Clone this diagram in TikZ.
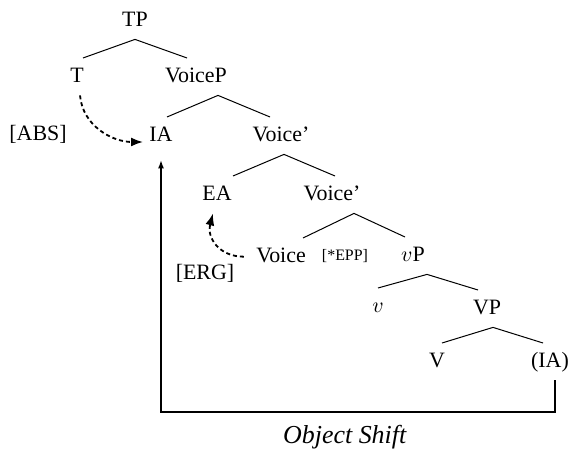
\documentclass[tikz,border=0pt]{standalone}
\usepackage{fontspec}
\setmainfont{Liberation Serif}
\usetikzlibrary{arrows.meta}

\begin{document}
\begin{tikzpicture}[x=.5bp,y=-.5bp,
    cat/.style={anchor=base,font=\fontsize{11}{13}\selectfont,
      text height=7.3bp,text depth=1bp,inner xsep=3bp,inner ysep=5bp},
    feat/.style={anchor=base,inner sep=1bp},
    branch/.style={line width=.5bp},
    agree/.style={line width=.9bp,dash pattern=on 2bp off 1.5bp,
      -{Latex[length=6bp,width=4.5bp]}},
    movement/.style={line width=.6bp,-{Latex[length=4bp,width=3bp]}}]

      \useasboundingbox (0,0) rectangle (572,450);

      \begin{scope}[every node/.style={cat}]
        \node (TP)        at (135,27)  {TP};
        \node (T)         at (77,83)   {T};
        \node (VoiceP)    at (196,83)  {VoiceP};
        \node (IA)        at (161,142) {IA};
        \node (Voicebar)  at (281,142) {Voice'};
        \node (EA)        at (217,201) {EA};
        \node (Voicebarb) at (332,201) {Voice'};
        \node (Voice)     at (281,263) {Voice};
        \node (vP)        at (413,262) {$v$P};
        \node (v)         at (378,313) {$v$};
        \node (VP)        at (487,315) {VP};
        \node (V)         at (437,368) {V};
        \node (IAlow)     at (550,368) {(IA)};
      \end{scope}

      \begin{scope}[every node/.style={feat}]
        \node (ABS) at (38,141)  {\fontsize{11}{13}\selectfont[ABS]};
        \node (ERG) at (205,280) {\fontsize{11}{13}\selectfont[ERG]};
        \node (EPP) at (345,261) {\fontsize{8}{10}\selectfont[*EPP]};
        \node (shift) at (345,443) {\fontsize{13}{15}\selectfont\textit{Object Shift}};
      \end{scope}

      \coordinate (corner) at (161,412);

      \begin{scope}[every path/.style={branch}]
        \draw (TP.south) -- ([xshift=3bp]T.north);
        \draw (TP.south) -- ([xshift=-4.5bp]VoiceP.north);
        \draw ([xshift=11bp]VoiceP.south) -- ([xshift=3bp]IA.north);
        \draw ([xshift=11bp]VoiceP.south) -- ([xshift=-5.5bp]Voicebar.north);
        \draw ([xshift=1.5bp]Voicebar.south) -- ([xshift=8bp]EA.north);
        \draw ([xshift=1.5bp]Voicebar.south) -- ([xshift=1.5bp]Voicebarb.north);
        \draw ([xshift=11bp]Voicebarb.south) -- ([xshift=11bp]Voice.north);
        \draw ([xshift=11bp]Voicebarb.south) -- ([xshift=-4bp]vP.north);
        \draw ([xshift=7bp]vP.south) -- (v.north);
        \draw ([xshift=7bp]vP.south) -- ([xshift=-4.5bp]VP.north);
        \draw ([xshift=3bp]VP.south) -- ([xshift=2.5bp]V.north);
        \draw ([xshift=3bp]VP.south) -- ([xshift=-3.5bp]IAlow.north);
      \end{scope}

      % case assignment
      \draw[agree] ([xshift=1.5bp]T.south) to[out=-85,in=180] (IA.base west);
      \draw[agree] ([xshift=-3bp]Voice.west) to[out=180,in=-105,looseness=1.2] ([xshift=-2bp]EA.south);

      % object shift
      \draw[movement,shorten >=3bp] ([xshift=2.5bp]IAlow.south) |- (corner) -- (IA.south);

    \end{tikzpicture}
\end{document}
